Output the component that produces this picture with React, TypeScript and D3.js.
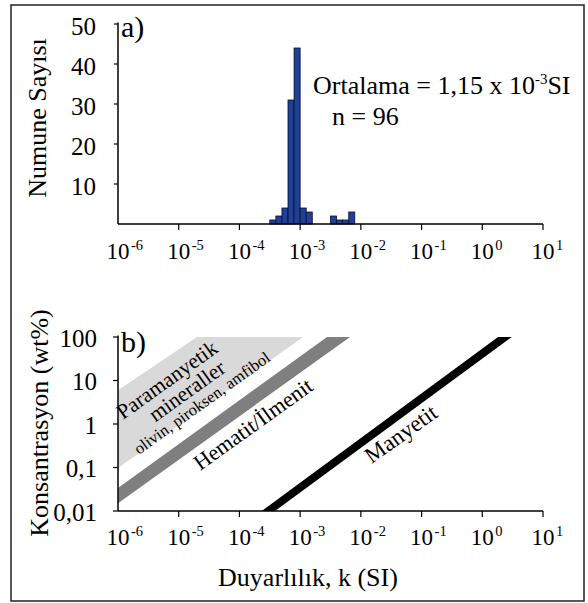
import React from "react";
import * as d3 from "d3";

// Panel a: histogram of log10(k) bins (width 0.1 decade)
const binLogStart = [-3.5, -3.4, -3.3, -3.2, -3.1, -3.0, -2.9, -2.5, -2.4, -2.3, -2.2];
const binCount = [1, 2, 4, 31, 44, 4, 3, 2, 1, 1, 3];
const binWidthLog = 0.1;

const xTickExps = [-6, -5, -4, -3, -2, -1, 0, 1];
const yTicksA = [10, 20, 30, 40, 50];
const yTicksB = [0.01, 0.1, 1, 10, 100];
const yTickLabelsB = ["0,01", "0,1", "1", "10", "100"];

// Panel b: bands as [k (SI), concentration (wt%)] vertices
const paramagneticBand: [number, number][] = [
  [1e-6, 0.098], [1e-6, 6.0], [2.0e-5, 100], [1.12e-3, 100],
];
const hematiteBand: [number, number][] = [
  [1e-6, 0.015], [1e-6, 0.034], [2.77e-3, 100], [6.64e-3, 100],
];
const magnetiteBand: [number, number][] = [
  [2.33e-4, 0.01], [3.85e-4, 0.01], [3.06, 100], [1.82, 100],
];

const FONT = "'Liberation Serif', 'Times New Roman', serif";

function TickLabel({ x, y, exp }: { x: number; y: number; exp: number }) {
  return (
    <g>
      <text x={x} y={y} textAnchor="middle" fontSize={23}>10</text>
      <text x={x + 13} y={y - 9} textAnchor="start" fontSize={14.5}>{String(exp)}</text>
    </g>
  );
}

export default function App() {
  const L = 118, R = 543;
  const x = d3.scaleLog().domain([1e-6, 10]).range([L, R]);
  const yA = d3.scaleLinear().domain([0, 50]).range([224, 24]);
  const yB = d3.scaleLog().domain([0.01, 100]).range([511, 337]);
  const poly = (pts: [number, number][]) =>
    pts.map((p) => `${x(p[0])},${yB(p[1])}`).join(" ");

  const ang =
    (-Math.atan2(yB(1) - yB(10), x(1e-3) - x(1e-4)) * 180) / Math.PI;

  const rot = (cx: number, cy: number, txt: string, fs: number) => (
    <text
      x={cx}
      y={cy}
      fontSize={fs}
      textAnchor="middle"
      dominantBaseline="central"
      transform={`rotate(${ang},${cx},${cy})`}
    >
      {txt}
    </text>
  );

  return (
    <svg width={588} height={603} style={{ position: "absolute", left: 0, top: 0 }} fontFamily={FONT}>
      <rect x={11} y={5} width={573} height={596} fill="white" stroke="#222" strokeWidth={1.5} />

      {/* ---------- Panel a ---------- */}
      {binLogStart.map((s, i) => {
        const x0 = x(Math.pow(10, s));
        const x1 = x(Math.pow(10, s + binWidthLog));
        return (
          <rect
            key={i}
            x={x0}
            y={yA(binCount[i])}
            width={x1 - x0}
            height={yA(0) - yA(binCount[i])}
            fill="#1F3F98"
            stroke="#0a0f2a"
            strokeWidth={0.8}
          />
        );
      })}
      <line x1={L} y1={yA(0)} x2={R} y2={yA(0)} stroke="black" strokeWidth={1.5} />
      <line x1={L} y1={yA(0)} x2={L} y2={yA(50) - 1.5} stroke="black" strokeWidth={1.5} />
      {yTicksA.map((t) => (
        <g key={t}>
          <line x1={L - 4} x2={L} y1={yA(t)} y2={yA(t)} stroke="black" strokeWidth={1.2} />
          <text x={96} y={yA(t) + 2} textAnchor="end" dominantBaseline="central" fontSize={25}>
            {t}
          </text>
        </g>
      ))}
      {xTickExps.map((e) => (
        <g key={e}>
          {e > -6 && (
            <line x1={x(Math.pow(10, e))} x2={x(Math.pow(10, e))} y1={yA(0)} y2={yA(0) + 6} stroke="black" strokeWidth={1.2} />
          )}
          <TickLabel x={x(Math.pow(10, e))} y={259} exp={e} />
        </g>
      ))}
      <text x={121} y={37} fontSize={30}>a)</text>
      <text
        transform={`translate(46,118) rotate(-90)`}
        textAnchor="middle"
        fontSize={26}
      >
        Numune Sayısı
      </text>
      <text x={313} y={94} fontSize={26}>
        Ortalama = 1,15 x 10
        <tspan fontSize={15} dy={-10}>-3</tspan>
        <tspan dy={10}>SI</tspan>
      </text>
      <text x={332} y={125} fontSize={26}>n = 96</text>

      {/* ---------- Panel b ---------- */}
      <polygon points={poly(paramagneticBand)} fill="#d9d9d9" />
      <polygon points={poly(hematiteBand)} fill="#7f7f7f" />
      <polygon points={poly(magnetiteBand)} fill="black" />

      <line x1={L} y1={yB(0.01)} x2={R} y2={yB(0.01)} stroke="black" strokeWidth={1.5} />
      <line x1={L} y1={yB(0.01)} x2={L} y2={yB(100) - 1.5} stroke="black" strokeWidth={1.5} />
      {yTicksB.map((t, i) => (
        <g key={t}>
          <line x1={L - 5} x2={L} y1={yB(t)} y2={yB(t)} stroke="black" strokeWidth={1.2} />
          <text x={97} y={yB(t) + 1} textAnchor="end" dominantBaseline="central" fontSize={25}>
            {yTickLabelsB[i]}
          </text>
        </g>
      ))}
      {xTickExps.map((e) => (
        <g key={e}>
          {e > -6 && (
            <line x1={x(Math.pow(10, e))} x2={x(Math.pow(10, e))} y1={yB(0.01)} y2={yB(0.01) + 6} stroke="black" strokeWidth={1.2} />
          )}
          <TickLabel x={x(Math.pow(10, e))} y={545} exp={e} />
        </g>
      ))}
      <text x={121} y={352} fontSize={30}>b)</text>
      <text
        transform={`translate(48,423) rotate(-90)`}
        textAnchor="middle"
        fontSize={26}
      >
        Konsantrasyon (wt%)
      </text>
      <text x={308} y={586} textAnchor="middle" fontSize={26}>
        Duyarlılık, k (SI)
      </text>

      {rot(167, 380, "Paramanyetik", 21.5)}
      {rot(187, 391, "mineraller", 21.5)}
      {rot(202, 403, "olivin, piroksen, amfibol", 16.5)}
      {rot(253, 424, "Hematit/İlmenit", 22)}
      {rot(401, 434, "Manyetit", 23)}
    </svg>
  );
}
